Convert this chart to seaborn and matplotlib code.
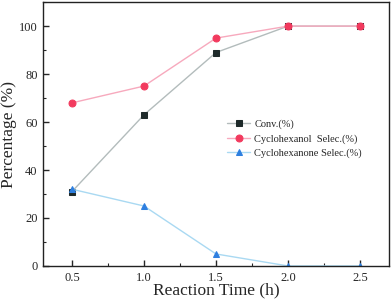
import matplotlib
matplotlib.use("Agg")
import matplotlib.pyplot as plt
from matplotlib.ticker import MultipleLocator
import pandas as pd
import seaborn as sns

# data
reaction_time = [0.5, 1.0, 1.5, 2.0, 2.5]
conv = [31, 63, 89, 100, 100]
cyclohexanol_selec = [68, 75, 95, 100, 100]
cyclohexanone_selec = [32, 25, 5, 0, 0]

series_names = ["Conv.(%)", "Cyclohexanol  Selec.(%)", "Cyclohexanone Selec.(%)"]

sns.set_style("ticks")
plt.rcParams['font.family'] = ['Liberation Serif', 'DejaVu Serif']

df = pd.DataFrame({
    "time": reaction_time * 3,
    "value": conv + cyclohexanol_selec + cyclohexanone_selec,
    "series": [series_names[0]] * 5 + [series_names[1]] * 5 + [series_names[2]] * 5,
})

# line colour, marker colour, marker shape
styles = {
    series_names[0]: ("#b3bcbc", "#1e2a2a", "s"),
    series_names[1]: ("#f7a9bd", "#f23a5e", "o"),
    series_names[2]: ("#a9d9f2", "#2d7fe0", "^"),
}

fig = plt.figure(figsize=(3.92, 3.05), dpi=100)
ax = fig.add_axes([0.11, 0.128, 0.882, 0.865])

for name in series_names:
    line_c, mark_c, mk = styles[name]
    sub = df[df["series"] == name]
    sns.lineplot(data=sub, x="time", y="value", ax=ax, color=line_c, lw=1.0,
                 marker=mk, markersize=5, markerfacecolor=mark_c,
                 markeredgecolor=mark_c, label=name)

ax.set_xlim(0.3, 2.7)
ax.set_ylim(0, 110)
ax.set_xticks(reaction_time)
ax.set_yticks([0, 20, 40, 60, 80, 100])
ax.xaxis.set_minor_locator(MultipleLocator(0.25))
ax.yaxis.set_minor_locator(MultipleLocator(10))
ax.tick_params(which="both", direction="in", top=False, right=False, labelsize=9, pad=4)
ax.tick_params(which="major", length=4, width=1)
ax.tick_params(which="minor", length=2, width=0.8)
for s in ax.spines.values():
    s.set_linewidth(1.0)
    s.set_color("#222222")

ax.set_xlabel("Reaction Time (h)", fontsize=12.5, labelpad=-1)
ax.set_ylabel("Percentage (%)", fontsize=12.5, labelpad=1)

ax.legend(loc="upper left", bbox_to_anchor=(0.52, 0.57), frameon=False, fontsize=7.5,
          handlelength=2.2, handletextpad=0.4, labelspacing=0.45, borderaxespad=0)

fig.savefig("out.png", dpi=100)
